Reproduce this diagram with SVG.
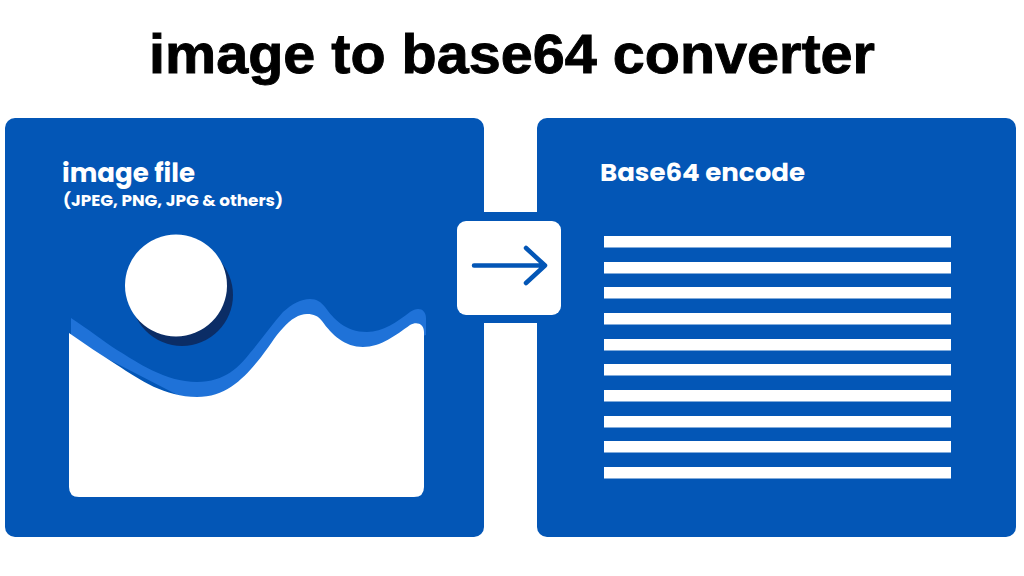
<svg xmlns="http://www.w3.org/2000/svg" width="1024" height="576" viewBox="0 0 1024 576">
<style>
.t{font-family:Poppins,"Noto Sans","Open Sans","Liberation Sans",sans-serif;font-weight:700}
.p{fill:#0356b6}
.w{fill:#fff}
.bar{fill:#fff}
</style>
<rect width="1024" height="576" fill="#fff"/>
<text id="title" x="149" y="73" font-family="'Liberation Sans',Arial,sans-serif" font-weight="700" font-size="55" stroke="#000" stroke-width="0.9" fill="#000" textLength="726" lengthAdjust="spacingAndGlyphs">image to base64 converter</text>
<g id="image-panel">
<rect class="p" x="5" y="118" width="479" height="419" rx="10"/>
<text class="t w" x="62" y="182" font-size="26" textLength="133" lengthAdjust="spacingAndGlyphs">image file</text>
<text class="t w" x="63" y="206" font-size="16" textLength="220" lengthAdjust="spacingAndGlyphs">(JPEG, PNG, JPG &amp; others)</text>
<circle cx="182" cy="295" r="51" fill="#0b2d66"/>
<circle class="w" cx="176" cy="285.5" r="51"/>
<path fill="#1f72d8" d="M71 318C88 329 103 341 117 350C137 362 165 382 197 382C225 382 240 366 250 353C262 339 272 324 283 312C292 304 301 299 310 299C317 299 321 302 325 307C333 318 345 332 367 332C383 332 397 322 410 312C418 306 426 309 426 318L426 335L197 405L71 340Z"/>
<path class="w" d="M69 333C85 344 101 355 117 365C140 380 165 397 197 397C225 397 242 380 257 362C268 349 275 336 283 328C291 319 299 314 307 314C314 314 318 316 322 321C332 335 345 347 363 347C381 347 396 335 410 325C417 321 424 324 424 332L424 487Q424 497 414 497L79 497Q69 497 69 487Z"/>
</g>
<g id="base64-panel">
<rect class="p" x="537" y="118" width="479" height="419" rx="10"/>
<text class="t w" x="600" y="181" font-size="24" textLength="205" lengthAdjust="spacingAndGlyphs">Base64 encode</text>
<rect class="bar" x="604" y="236" width="347" height="11.5"/>
<rect class="bar" x="604" y="262" width="347" height="11.5"/>
<rect class="bar" x="604" y="287" width="347" height="11.5"/>
<rect class="bar" x="604" y="313" width="347" height="11.5"/>
<rect class="bar" x="604" y="339" width="347" height="11.5"/>
<rect class="bar" x="604" y="364" width="347" height="11.5"/>
<rect class="bar" x="604" y="390" width="347" height="11.5"/>
<rect class="bar" x="604" y="416" width="347" height="11.5"/>
<rect class="bar" x="604" y="441" width="347" height="11.5"/>
<rect class="bar" x="604" y="467" width="347" height="11.5"/>
</g>
<g id="arrow-node">
<rect class="p" x="480" y="212" width="62" height="111"/>
<rect class="w" x="457" y="221" width="104" height="94" rx="9"/>
<path d="M474 265.500H544M526 248L545 265.500L526 283" fill="none" stroke="#0356b6" stroke-width="4.500" stroke-linecap="round" stroke-linejoin="round"/>
</g>
<g id="connectors"></g>
</svg>
